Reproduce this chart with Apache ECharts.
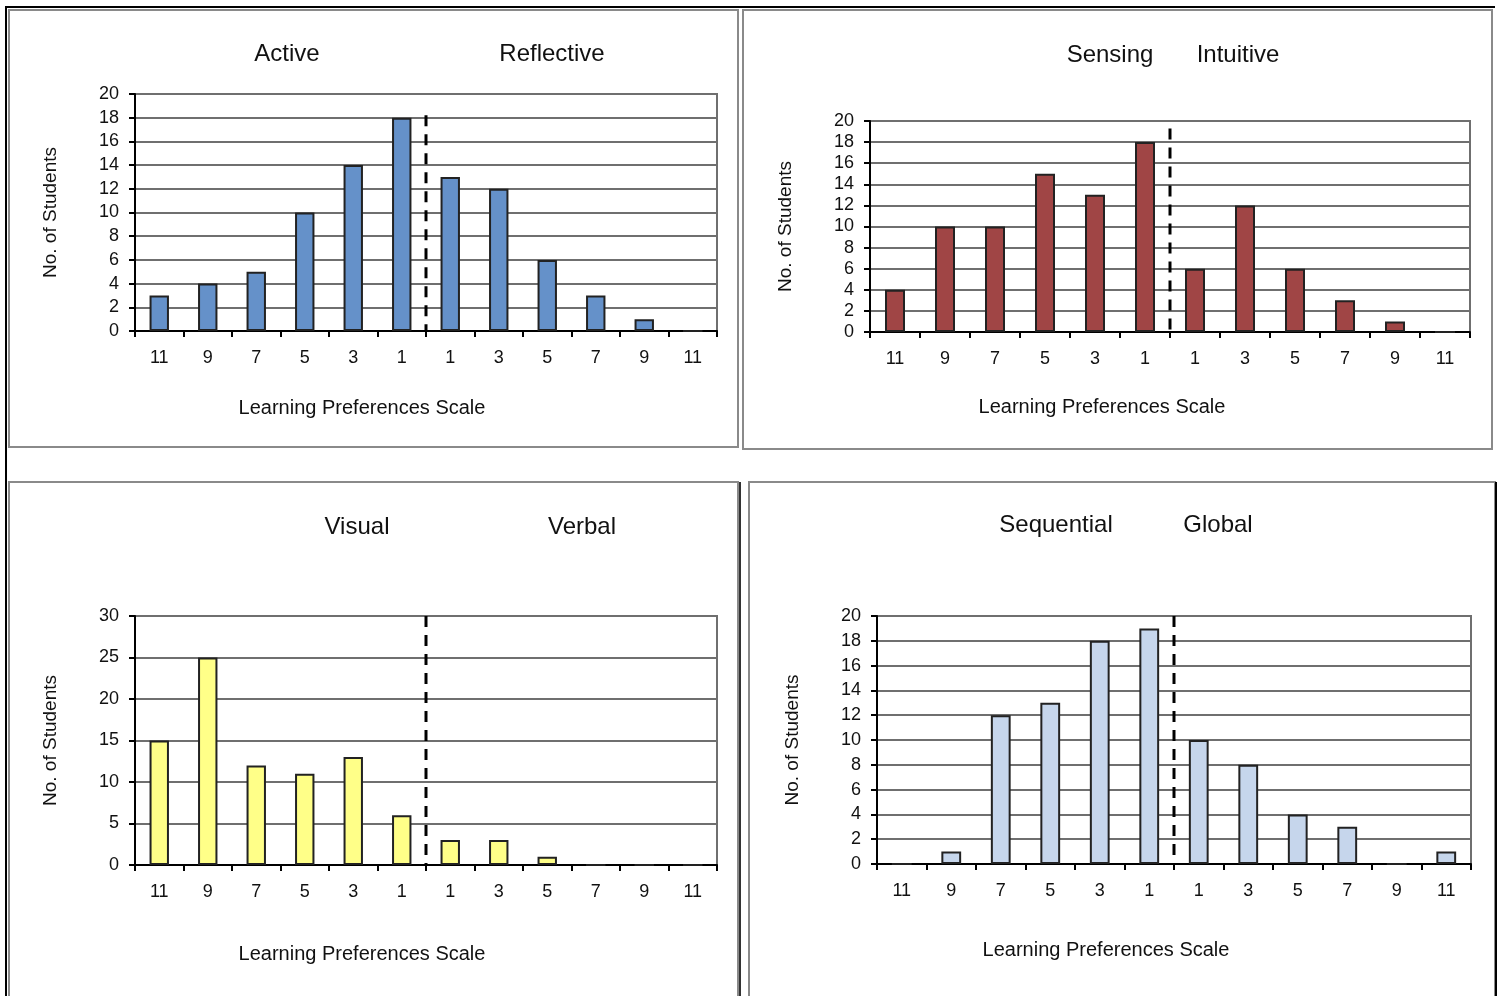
<!DOCTYPE html>
<html>
<head>
<meta charset="utf-8">
<script src="https://cdn.jsdelivr.net/npm/echarts@6/dist/echarts.min.js"></script>
<style>
  html, body { margin: 0; padding: 0; background: #fff; }
  #chart { width: 1499px; height: 996px; }
</style>
</head>
<body>
<div id="chart"></div>
<script>
const chart = echarts.init(document.getElementById("chart"));

const scaleLabels = ["11", "9", "7", "5", "3", "1", "1", "3", "5", "7", "9", "11"];

const activeReflective = [3, 4, 5, 10, 14, 18, 13, 12, 6, 3, 1, 0];
const sensingIntuitive = [4, 10, 10, 15, 13, 18, 6, 12, 6, 3, 1, 0];
const visualVerbal = [15, 25, 12, 11, 13, 6, 3, 3, 1, 0, 0, 0];
const sequentialGlobal = [0, 1, 12, 13, 18, 19, 10, 8, 4, 3, 0, 1];

const poles = [
  ["Active", "Reflective"],
  ["Sensing", "Intuitive"],
  ["Visual", "Verbal"],
  ["Sequential", "Global"]
];
const yMax = [20, 20, 30, 20];
const yStep = [2, 2, 5, 2];
// top of the dashed divider, in axis units
const dividerTop = [18.2, 19.3, 30, 20];

const FONT = "Liberation Sans, Arial, sans-serif";
const XNAME = "Learning Preferences Scale";

const panels = [
  { data: activeReflective, color: "#6591c9", grid: { left: 135, top: 94, width: 582, height: 237 }, titles: [287, 552], titleY: 54, xName: [362, 408] },
  { data: sensingIntuitive, color: "#a04545", grid: { left: 870, top: 121, width: 600, height: 211 }, titles: [1110, 1238], titleY: 55, xName: [1102, 407] },
  { data: visualVerbal, color: "#ffff88", grid: { left: 135, top: 616, width: 582, height: 249 }, titles: [357, 582], titleY: 527, xName: [362, 954] },
  { data: sequentialGlobal, color: "#c6d6ec", grid: { left: 877, top: 616, width: 594, height: 248 }, titles: [1056, 1218], titleY: 525, xName: [1106, 950] }
];

const grids = [], xAxes = [], yAxes = [], series = [], texts = [];

panels.forEach((p, i) => {
  grids.push(Object.assign({
    show: true, borderColor: "#6f6f6f", borderWidth: 2, backgroundColor: "#fff"
  }, p.grid));

  xAxes.push({
    type: "category",
    gridIndex: i,
    data: scaleLabels,
    axisLine: { lineStyle: { color: "#000", width: 2 } },
    axisTick: { show: true, length: 6, lineStyle: { color: "#000", width: 2 } },
    axisLabel: { fontFamily: FONT, fontSize: 18, color: "#111", margin: 18, interval: 0 },
    splitLine: { show: false }
  });
  xAxes.push({
    type: "value", gridIndex: i, min: 0, max: 12, show: false
  });

  yAxes.push({
    type: "value",
    gridIndex: i,
    min: 0,
    max: yMax[i],
    interval: yStep[i],
    name: "No. of Students",
    nameLocation: "middle",
    nameRotate: 90,
    nameGap: 75,
    nameTextStyle: { fontFamily: FONT, fontSize: 19, color: "#111" },
    axisLine: { show: true, lineStyle: { color: "#000", width: 2 } },
    axisTick: { show: true, length: 6, lineStyle: { color: "#000", width: 2 } },
    axisLabel: { fontFamily: FONT, fontSize: 18, color: "#111", margin: 16 },
    splitLine: { show: true, lineStyle: { color: "#6f6f6f", width: 2 } }
  });

  series.push({
    type: "bar",
    xAxisIndex: i * 2,
    yAxisIndex: i,
    data: p.data,
    barWidth: "40%",
    itemStyle: { color: p.color, borderColor: "#222", borderWidth: 2 },
    silent: true
  });
  series.push({
    type: "line",
    xAxisIndex: i * 2 + 1,
    yAxisIndex: i,
    data: [[6, dividerTop[i]], [6, 0]],
    symbol: "none",
    lineStyle: { color: "#000", width: 3, type: [11, 8] },
    silent: true,
    z: 5
  });

  poles[i].forEach((t, k) => {
    texts.push({
      type: "text",
      x: p.titles[k],
      y: p.titleY,
      style: { text: t, fontFamily: FONT, fontSize: 24, fill: "#111", align: "center", verticalAlign: "middle" },
      z: 10
    });
  });
  texts.push({
    type: "text",
    x: p.xName[0],
    y: p.xName[1],
    style: { text: XNAME, fontFamily: FONT, fontSize: 20, fill: "#111", align: "center", verticalAlign: "middle" },
    z: 10
  });
});

const boxes = [
  [9, 10, 729, 437],
  [743, 10, 749, 439],
  [9, 482, 729, 530],
  [749, 482, 746, 530]
].map(b => ({
  type: "rect",
  shape: { x: b[0], y: b[1], width: b[2], height: b[3] },
  style: { fill: "#fff", stroke: "#8a8a8a", lineWidth: 2 },
  z: -10
}));

const frame = [
  { type: "line", shape: { x1: 5, y1: 7, x2: 1495, y2: 7 }, style: { stroke: "#000", lineWidth: 2 }, z: -5 },
  { type: "line", shape: { x1: 6, y1: 7, x2: 6, y2: 996 }, style: { stroke: "#000", lineWidth: 2 }, z: -5 },
  { type: "line", shape: { x1: 740, y1: 482, x2: 740, y2: 996 }, style: { stroke: "#333", lineWidth: 2 }, z: -5 },
  { type: "line", shape: { x1: 1496, y1: 482, x2: 1496, y2: 996 }, style: { stroke: "#000", lineWidth: 2 }, z: -5 }
];

chart.setOption({
  backgroundColor: "#fff",
  animation: false,
  grid: grids,
  xAxis: xAxes,
  yAxis: yAxes,
  series: series,
  graphic: boxes.concat(frame, texts)
});
</script>
</body>
</html>
